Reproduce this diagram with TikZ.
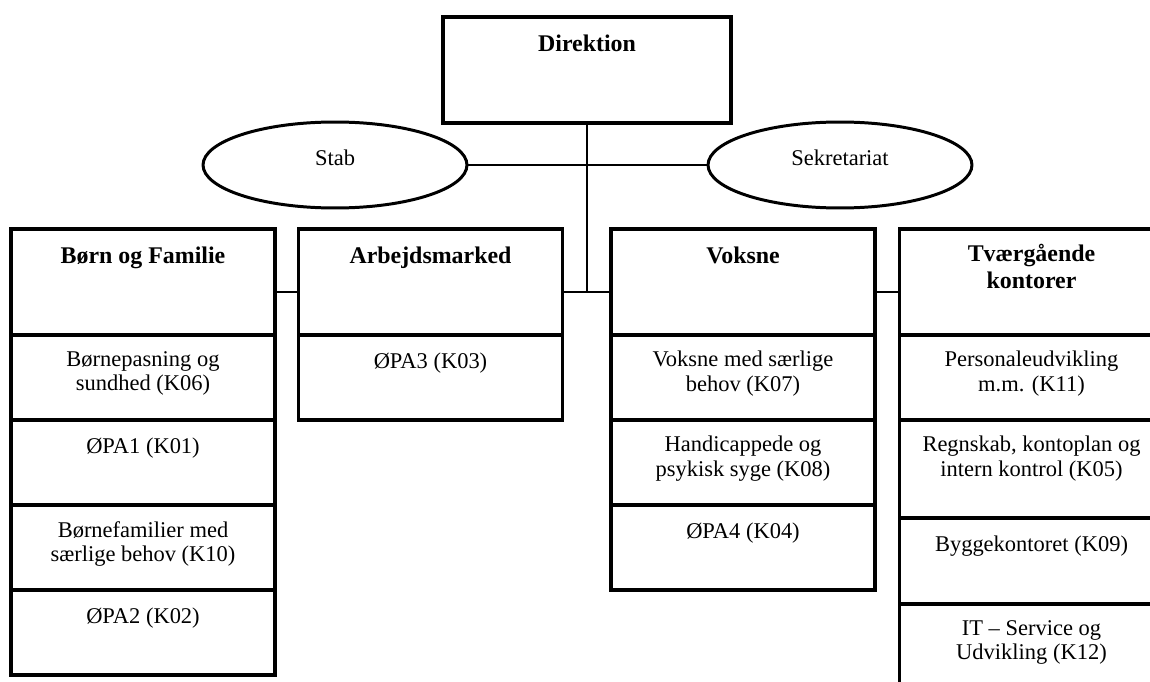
\documentclass[tikz,border=0pt]{standalone}
\usepackage{fontspec}
\setmainfont{Liberation Serif}
\usetikzlibrary{positioning,shapes.geometric}

\begin{document}
\begin{tikzpicture}[x=0.02cm, y=-0.02cm,
    box/.style={draw, rectangle, line width=1.9pt, inner sep=0pt, outer sep=0pt, minimum width=5.28cm},
    head/.style={box, minimum height=2.12cm},
    cell/.style={box, minimum height=1.7cm, below=0pt of #1},
    oval/.style={draw, ellipse, line width=1.7pt, inner sep=0pt, minimum width=5.28cm, minimum height=1.72cm,
      font=\fontsize{12.8}{13.8}\selectfont, text height=7.6pt, text depth=7pt},
    htext/.style={inner sep=0pt, align=center, font=\bfseries\fontsize{13.6}{15.4}\selectfont, execute at begin node=\strut},
    ctext/.style={inner sep=0pt, align=center, font=\fontsize{12.8}{13.8}\selectfont, execute at begin node=\strut},
    link/.style={line width=1.7pt}]
        \useasboundingbox (0,0) rectangle (1150,682);

        % top of the chart
        \node[head, minimum width=5.76cm] (dir) at (587,70) {};
        \node[htext, below=0.3cm of dir.north] (dirT) {Direktion};
        \node[oval] (stab) at (335,165) {Stab};
        \node[oval] (sekr) at (840,165) {Sekretariat};
        \coordinate (hub) at (587,292);

        % the four areas
        \node[head] (born)  at (143,282)    {};
        \node[head] (arb)   at (430.5,282)  {};
        \node[head] (voks)  at (743,282)    {};
        \node[head] (tvaer) at (1031.5,282) {};
        \node[htext, below=0.3cm of born.north]  (bornT)  {Børn og Familie};
        \node[htext, below=0.3cm of arb.north]   (arbT)   {Arbejdsmarked};
        \node[htext, below=0.3cm of voks.north]  (voksT)  {Voksne};
        \node[htext, below=0.3cm of tvaer.north] (tvaerT) {Tværgående\\kontorer};

        % offices under each area
        \node[cell=born]  (born1) {};
        \node[cell=born1] (born2) {};
        \node[cell=born2] (born3) {};
        \node[cell=born3] (born4) {};
        \node[cell=arb]   (arb1)  {};
        \node[cell=voks]  (voks1) {};
        \node[cell=voks1] (voks2) {};
        \node[cell=voks2] (voks3) {};
        \node[cell=tvaer]  (tvaer1) {};
        \node[cell=tvaer1, minimum height=1.96cm] (tvaer2) {};
        \node[cell=tvaer2, minimum height=1.72cm] (tvaer3) {};
        \node[cell=tvaer3] (tvaer4) {};

        \node[ctext, below=0.32cm of born1.north] (born1T) {Børnepasning og\\sundhed (K06)};
        \node[ctext, below=0.32cm of born2.north] (born2T) {ØPA1 (K01)};
        \node[ctext, below=0.32cm of born3.north] (born3T) {Børnefamilier med\\særlige behov (K10)};
        \node[ctext, below=0.32cm of born4.north] (born4T) {ØPA2 (K02)};
        \node[ctext, below=0.32cm of arb1.north]  (arb1T)  {ØPA3 (K03)};
        \node[ctext, below=0.32cm of voks1.north] (voks1T) {Voksne med særlige\\behov (K07)};
        \node[ctext, below=0.32cm of voks2.north] (voks2T) {Handicappede og\\psykisk syge (K08)};
        \node[ctext, below=0.32cm of voks3.north] (voks3T) {ØPA4 (K04)};
        \node[ctext, below=0.32cm of tvaer1.north] (tvaer1T) {Personaleudvikling\\m.m. (K11)};
        \node[ctext, below=0.32cm of tvaer2.north] (tvaer2T) {Regnskab, kontoplan og\\intern kontrol (K05)};
        \node[ctext, below=0.32cm of tvaer3.north] (tvaer3T) {Byggekontoret (K09)};
        \node[ctext, below=0.32cm of tvaer4.north] (tvaer4T) {IT – Service og\\Udvikling (K12)};

        % lines
        \draw[link] (dir.south) -- (hub);
        \draw[link] (stab) -- (sekr);
        \draw[link] (born.east |- hub) -- (arb.west |- hub);
        \draw[link] (arb.east |- hub) -- (voks.west |- hub);
        \draw[line width=0.9pt] (voks.east |- hub) -- (tvaer.west |- hub);
      \end{tikzpicture}
\end{document}
